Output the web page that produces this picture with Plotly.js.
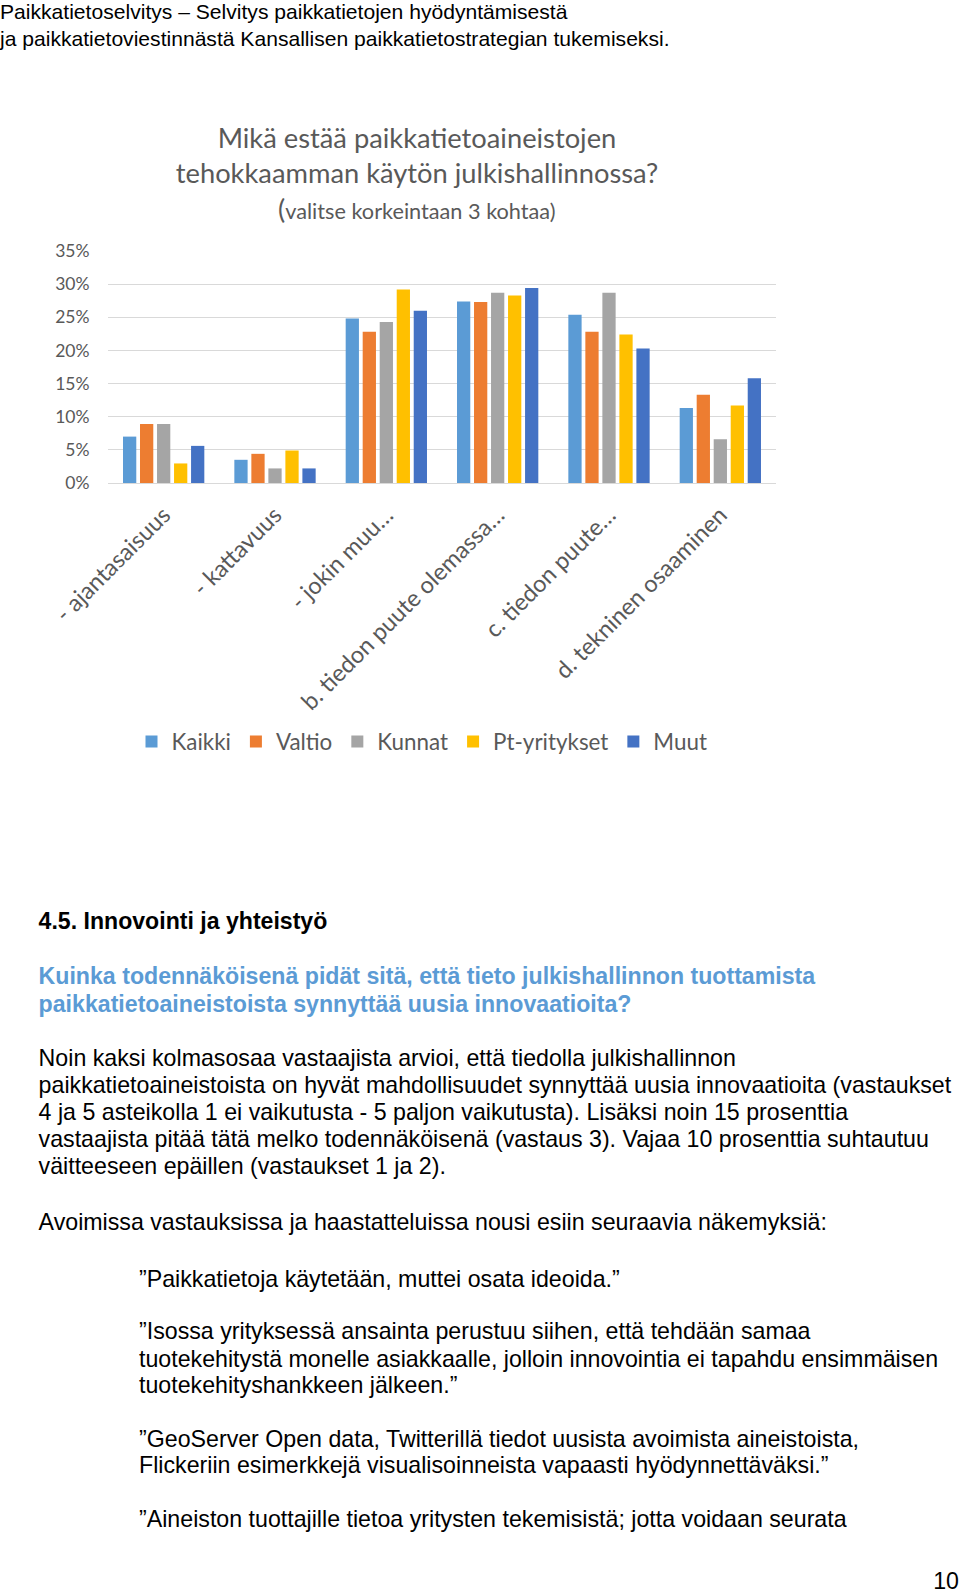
<!DOCTYPE html>
<html><head><meta charset="utf-8">
<script src="https://cdn.plot.ly/plotly-3.0.1.min.js"></script>
<style>
html,body{margin:0;padding:0;background:#fff;width:960px;height:1592px;overflow:hidden;}
#page{position:relative;width:960px;height:1592px;}
#chart{position:absolute;left:0;top:0;width:960px;height:800px;}
.t{position:absolute;white-space:nowrap;font-family:"Liberation Sans",Arial,sans-serif;color:#000;transform:translateY(-50%);line-height:1.15;}
.hd{font-size:21.1px;}
.bd{font-size:23.2px;}
.b{font-weight:bold;font-size:23.1px;}
.blue{color:#5B9BD5;font-weight:bold;font-size:23.15px;}
</style></head>
<body><div id="page"><div id="chart"></div>
<div class="t hd" style="left:0;top:12px">Paikkatietoselvitys – Selvitys paikkatietojen hyödyntämisestä</div>
<div class="t hd" style="left:0;top:38.6px">ja paikkatietoviestinnästä Kansallisen paikkatietostrategian tukemiseksi.</div>
<div class="t b" style="left:38.6px;top:921px">4.5. Innovointi ja yhteistyö</div>
<div class="t blue" style="left:38.6px;top:976px">Kuinka todennäköisenä pidät sitä, että tieto julkishallinnon tuottamista</div>
<div class="t blue" style="left:38.6px;top:1003.6px">paikkatietoaineistoista synnyttää uusia innovaatioita?</div>
<div class="t bd" style="left:38.6px;top:1058.4px">Noin kaksi kolmasosaa vastaajista arvioi, että tiedolla julkishallinnon</div>
<div class="t bd" style="left:38.6px;top:1084.9px">paikkatietoaineistoista on hyvät mahdollisuudet synnyttää uusia innovaatioita (vastaukset</div>
<div class="t bd" style="left:38.6px;top:1112.2px">4 ja 5 asteikolla 1 ei vaikutusta - 5 paljon vaikutusta). Lisäksi noin 15 prosenttia</div>
<div class="t bd" style="left:38.6px;top:1138.6px">vastaajista pitää tätä melko todennäköisenä (vastaus 3). Vajaa 10 prosenttia suhtautuu</div>
<div class="t bd" style="left:38.6px;top:1166px">väitteeseen epäillen (vastaukset 1 ja 2).</div>
<div class="t bd" style="left:38.6px;top:1221.8px">Avoimissa vastauksissa ja haastatteluissa nousi esiin seuraavia näkemyksiä:</div>
<div class="t bd" style="left:139px;top:1278.6px">”Paikkatietoja käytetään, muttei osata ideoida.”</div>
<div class="t bd" style="left:139px;top:1331.4px">”Isossa yrityksessä ansainta perustuu siihen, että tehdään samaa</div>
<div class="t bd" style="left:139px;top:1358.8px">tuotekehitystä monelle asiakkaalle, jolloin innovointia ei tapahdu ensimmäisen</div>
<div class="t bd" style="left:139px;top:1385.2px">tuotekehityshankkeen jälkeen.”</div>
<div class="t bd" style="left:139px;top:1439px">”GeoServer Open data, Twitterillä tiedot uusista avoimista aineistoista,</div>
<div class="t bd" style="left:139px;top:1465.4px">Flickeriin esimerkkejä visualisoinneista vapaasti hyödynnettäväksi.”</div>
<div class="t bd" style="left:139px;top:1519px">”Aineiston tuottajille tietoa yritysten tekemisistä; jotta voidaan seurata</div>
<div class="t bd" style="right:1px;top:1581px">10</div>
</div>
<script>
const categories = ['- ajantasaisuus', '- kattavuus', '- jokin muu…', 'b. tiedon puute olemassa…', 'c. tiedon puute…', 'd. tekninen osaaminen'];
const seriesNames = ['Kaikki', 'Valtio', 'Kunnat', 'Pt-yritykset', 'Muut'];
const kaikki = [7.0, 3.5, 24.8, 27.4, 25.4, 11.3];
const valtio = [8.9, 4.4, 22.8, 27.3, 22.8, 13.3];
const kunnat = [8.9, 2.2, 24.3, 28.7, 28.7, 6.6];
const ptYritykset = [2.95, 4.9, 29.2, 28.3, 22.4, 11.7];
const muut = [5.6, 2.2, 26.0, 29.4, 20.3, 15.8];
const yTickVals = [0, 5, 10, 15, 20, 25, 30, 35];
const yTickText = ['0%', '5%', '10%', '15%', '20%', '25%', '30%', '35%'];
const chartTitle = 'Mikä estää paikkatietoaineistojen<br>tehokkaamman käytön julkishallinnossa?';
const chartSubtitle = 'valitse korkeintaan 3 kohtaa)';

const colors = ['#5B9BD5', '#ED7D31', '#A5A5A5', '#FFC000', '#4472C4'];
const allSeries = [kaikki, valtio, kunnat, ptYritykset, muut];

const L = 108, R = 184, T = 251, B = 317, W = 960, H = 800;
const pw = W - L - R, ph = H - T - B;
const px2x = p => (p - L) / pw;
const py2y = p => (H - B - p) / ph;
const gray = '#595959';
const cfont = 'Lato, "Open Sans", sans-serif';

const data = allSeries.map((vals, i) => ({
  type: 'bar', name: seriesNames[i], x: categories, y: vals,
  marker: {color: colors[i]}, hoverinfo: 'none'
}));

const layout = {
  width: W, height: H,
  margin: {l: L, r: R, t: T, b: B, pad: 0},
  paper_bgcolor: 'rgba(0,0,0,0)', plot_bgcolor: 'rgba(0,0,0,0)',
  barmode: 'group', bargap: 0.236, bargroupgap: 0.22,
  title: {text: chartTitle, x: 417 / W, xref: 'container', xanchor: 'center',
          y: 1 - 148 / H, yref: 'container', yanchor: 'middle',
          font: {family: cfont, size: 27.3, color: gray}},
  annotations: [{
    text: '<span style="font-size:27px">(</span>' + chartSubtitle,
    xref: 'paper', yref: 'paper', x: px2x(417), y: py2y(208), xanchor: 'center', yanchor: 'middle',
    showarrow: false, font: {family: cfont, size: 21.7, color: gray}
  }],
  xaxis: {type: 'category', tickangle: -45, automargin: false, showgrid: false, zeroline: false,
          showline: true, linecolor: '#D9D9D9', linewidth: 1,
          ticks: 'outside', ticklen: 8, tickcolor: 'rgba(0,0,0,0)',
          tickfont: {family: cfont, size: 23.5, color: gray}},
  yaxis: {range: [0, 35], tickvals: yTickVals, ticktext: yTickText, automargin: false,
          showgrid: true, gridcolor: '#D9D9D9', gridwidth: 1, zeroline: false, showline: false,
          ticks: 'outside', ticklen: 14, tickcolor: 'rgba(0,0,0,0)',
          tickfont: {family: cfont, size: 17.5, color: gray}},
  showlegend: true,
  legend: {orientation: 'h', x: px2x(422), xanchor: 'center', y: py2y(742), yanchor: 'middle',
           font: {family: cfont, size: 22.4, color: gray}, bgcolor: 'rgba(0,0,0,0)', traceorder: 'normal'}
};

Plotly.newPlot('chart', data, layout, {staticPlot: true, displayModeBar: false});
</script>
</body></html>
